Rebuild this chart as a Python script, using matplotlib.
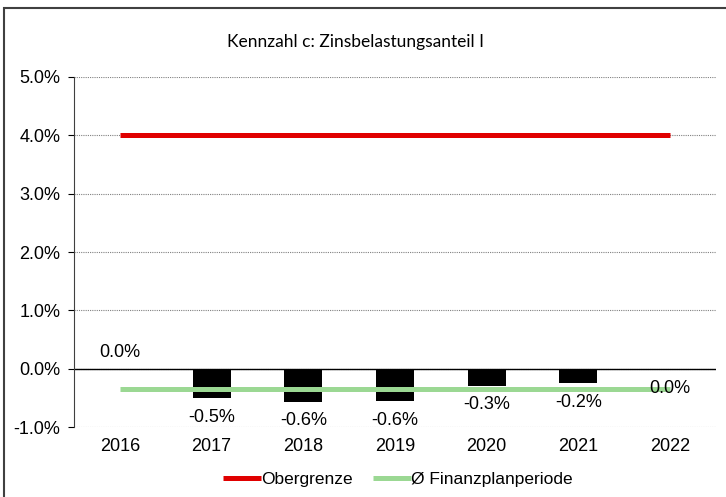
import matplotlib.pyplot as plt
import matplotlib.patches as patches
from matplotlib.ticker import FuncFormatter

years = ['2016', '2017', '2018', '2019', '2020', '2021', '2022']
values = [0.0, -0.51, -0.57, -0.56, -0.30, -0.25, -0.02]
labels = ['0.0%', '-0.5%', '-0.6%', '-0.6%', '-0.3%', '-0.2%', '0.0%']
obergrenze = [4.0] * 7
avg_period = [-0.34] * 7

plt.rcParams['font.family'] = ['Liberation Sans', 'DejaVu Sans']

fig = plt.figure(figsize=(7.26, 4.97), dpi=100)
ax = fig.add_axes([0.102, 0.1408, 0.884, 0.7043])

x = list(range(len(years)))
ax.bar(x, values, width=0.415, color='black', zorder=3)
ax.plot(x, obergrenze, color='#e00000', lw=3.6, solid_capstyle='butt', zorder=4, label='Obergrenze')
ax.plot(x, avg_period, color='#9bd893', lw=3.6, solid_capstyle='butt', zorder=4,
        label='Ø Finanzplanperiode')

# data labels (centred ~19 px from bar end)
for xi, v, lab in zip(x, values, labels):
    off = 12 if v >= 0 else -13.5
    ax.annotate(lab, (xi, v), xytext=(0, off), textcoords='offset points',
                ha='center', va='center', fontsize=13, zorder=5)

ax.set_xlim(-0.5, 6.5)
ax.set_ylim(-1, 5)
ax.set_yticks(range(-1, 6))
ax.yaxis.set_major_formatter(FuncFormatter(lambda v, p: '%.1f%%' % v))
ax.set_xticks(x)
ax.set_xticklabels(years)
ax.tick_params(axis='x', length=0, pad=8, labelsize=13)
ax.tick_params(axis='y', length=4, direction='out', pad=6, labelsize=13)
ax.grid(axis='y', color='#808080', linestyle=(0, (1, 1)), lw=0.8, zorder=0)
ax.axhline(0, color='black', lw=1, zorder=2)
for s in ['top', 'right', 'bottom']:
    ax.spines[s].set_visible(False)
ax.spines['left'].set_color('#404040')

fig.text(0.49, 0.915, 'Kennzahl c: Zinsbelastungsanteil I', ha='center', va='center',
         fontsize=12.5, family=['Lato', 'DejaVu Sans'])

fig.legend(loc='center', bbox_to_anchor=(0.548, 0.035), ncol=2, frameon=False,
           fontsize=12.5, handlelength=2.2, handletextpad=0.0, columnspacing=1.2)

fig.patches.append(patches.Rectangle((0.006, -0.1), 1.2, 1.083, transform=fig.transFigure,
                                     fill=False, edgecolor='#404040', lw=1.5))

fig.savefig('out.png', dpi=100)
